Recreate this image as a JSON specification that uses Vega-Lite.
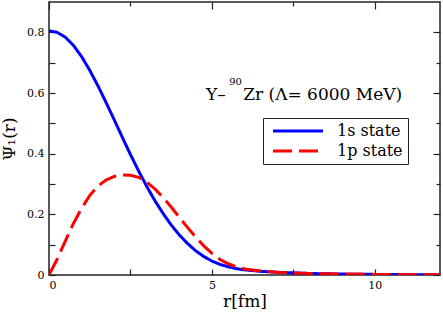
{
  "$schema": "https://vega.github.io/schema/vega-lite/v6.json",
  "width": 391,
  "height": 273,
  "autosize": {"type": "none"},
  "padding": {"left": 49, "top": 2, "right": 3, "bottom": 37},
  "background": "white",
  "config": {
    "view": {"stroke": "#222", "strokeWidth": 1.5},
    "font": "DejaVu Serif",
    "axis": {
      "domain": false,
      "grid": false,
      "tickColor": "#222",
      "tickWidth": 1.2,
      "labelFont": "DejaVu Serif",
      "labelFontSize": 11,
      "labelColor": "black",
      "titleFont": "DejaVu Serif",
      "titleFontSize": 17,
      "titleFontWeight": "normal",
      "titleColor": "black"
    }
  },
  "datasets": {
    "wf": [
      {"r": 0, "psi": 0.805, "state": "1s state"},
      {"r": 0.25, "psi": 0.8, "state": "1s state"},
      {"r": 0.5, "psi": 0.784, "state": "1s state"},
      {"r": 0.75, "psi": 0.757, "state": "1s state"},
      {"r": 1.0, "psi": 0.72, "state": "1s state"},
      {"r": 1.25, "psi": 0.675, "state": "1s state"},
      {"r": 1.5, "psi": 0.624, "state": "1s state"},
      {"r": 1.75, "psi": 0.569, "state": "1s state"},
      {"r": 2.0, "psi": 0.512, "state": "1s state"},
      {"r": 2.25, "psi": 0.454, "state": "1s state"},
      {"r": 2.5, "psi": 0.397, "state": "1s state"},
      {"r": 2.75, "psi": 0.343, "state": "1s state"},
      {"r": 3.0, "psi": 0.292, "state": "1s state"},
      {"r": 3.25, "psi": 0.245, "state": "1s state"},
      {"r": 3.5, "psi": 0.203, "state": "1s state"},
      {"r": 3.75, "psi": 0.165, "state": "1s state"},
      {"r": 4.0, "psi": 0.132, "state": "1s state"},
      {"r": 4.25, "psi": 0.104, "state": "1s state"},
      {"r": 4.5, "psi": 0.08, "state": "1s state"},
      {"r": 4.75, "psi": 0.061, "state": "1s state"},
      {"r": 5.0, "psi": 0.046, "state": "1s state"},
      {"r": 5.25, "psi": 0.035, "state": "1s state"},
      {"r": 5.5, "psi": 0.027, "state": "1s state"},
      {"r": 5.75, "psi": 0.021, "state": "1s state"},
      {"r": 6.0, "psi": 0.017, "state": "1s state"},
      {"r": 6.5, "psi": 0.012, "state": "1s state"},
      {"r": 7.0, "psi": 0.009, "state": "1s state"},
      {"r": 8.0, "psi": 0.005, "state": "1s state"},
      {"r": 9.0, "psi": 0.003, "state": "1s state"},
      {"r": 10.0, "psi": 0.002, "state": "1s state"},
      {"r": 11.0, "psi": 0.001, "state": "1s state"},
      {"r": 12.0, "psi": 0.001, "state": "1s state"},
      {"r": 0, "psi": 0.0, "state": "1p state"},
      {"r": 0.25, "psi": 0.052, "state": "1p state"},
      {"r": 0.5, "psi": 0.112, "state": "1p state"},
      {"r": 0.75, "psi": 0.17, "state": "1p state"},
      {"r": 1.0, "psi": 0.22, "state": "1p state"},
      {"r": 1.25, "psi": 0.262, "state": "1p state"},
      {"r": 1.5, "psi": 0.293, "state": "1p state"},
      {"r": 1.75, "psi": 0.313, "state": "1p state"},
      {"r": 2.0, "psi": 0.325, "state": "1p state"},
      {"r": 2.25, "psi": 0.33, "state": "1p state"},
      {"r": 2.5, "psi": 0.329, "state": "1p state"},
      {"r": 2.75, "psi": 0.322, "state": "1p state"},
      {"r": 3.0, "psi": 0.306, "state": "1p state"},
      {"r": 3.25, "psi": 0.284, "state": "1p state"},
      {"r": 3.5, "psi": 0.256, "state": "1p state"},
      {"r": 3.75, "psi": 0.224, "state": "1p state"},
      {"r": 4.0, "psi": 0.19, "state": "1p state"},
      {"r": 4.25, "psi": 0.157, "state": "1p state"},
      {"r": 4.5, "psi": 0.125, "state": "1p state"},
      {"r": 4.75, "psi": 0.096, "state": "1p state"},
      {"r": 5.0, "psi": 0.071, "state": "1p state"},
      {"r": 5.25, "psi": 0.051, "state": "1p state"},
      {"r": 5.5, "psi": 0.037, "state": "1p state"},
      {"r": 5.75, "psi": 0.027, "state": "1p state"},
      {"r": 6.0, "psi": 0.02, "state": "1p state"},
      {"r": 6.5, "psi": 0.013, "state": "1p state"},
      {"r": 7.0, "psi": 0.009, "state": "1p state"},
      {"r": 8.0, "psi": 0.005, "state": "1p state"},
      {"r": 9.0, "psi": 0.003, "state": "1p state"},
      {"r": 10.0, "psi": 0.002, "state": "1p state"},
      {"r": 11.0, "psi": 0.001, "state": "1p state"},
      {"r": 12.0, "psi": 0.001, "state": "1p state"}
    ],
    "note1": [{"t": "Y–"}],
    "note2": [{"t": "90"}],
    "note3": [{"t": "Zr (Λ= 6000 MeV)"}]
  },
  "resolve": {"axis": {"x": "independent", "y": "independent"}},
  "layer": [
    {
      "data": {"name": "wf"},
      "transform": [{"filter": "datum.state == '1s state'"}],
      "mark": {"type": "line", "strokeWidth": 3, "clip": true},
      "encoding": {
        "x": {
          "field": "r", "type": "quantitative",
          "scale": {"domain": [0, 12], "nice": false, "zero": false},
          "axis": {
            "orient": "bottom", "values": [0, 2.5, 5, 7.5, 10],
            "labelExpr": "datum.value % 5 == 0 ? format(datum.value, 'd') : ''",
            "tickSize": -6,
            "labelPadding": 10,
            "title": "r[fm]", "titlePadding": 3
          }
        },
        "y": {
          "field": "psi", "type": "quantitative",
          "scale": {"domain": [0, 0.9], "nice": false},
          "axis": {
            "orient": "left", "values": [0, 0.1, 0.2, 0.3, 0.4, 0.5, 0.6, 0.7, 0.8],
            "labelExpr": "round(datum.value*10) % 2 == 0 ? (datum.value == 0 ? '0' : format(datum.value, '.1f')) : ''",
            "tickSize": -6,
            "labelPadding": 11,
            "title": "Ψ₁(r)", "titlePadding": 8
          }
        },
        "color": {
          "field": "state", "type": "nominal",
          "scale": {"domain": ["1s state", "1p state"], "range": ["#0000ff", "#ff0000"]},
          "legend": {
            "orient": "none", "legendX": 214, "legendY": 116, "title": null,
            "strokeColor": "#222", "fillColor": "white", "padding": 5,
            "symbolType": "M-0.6,0H9.4", "symbolSize": 100, "symbolStrokeWidth": 3,
            "labelFont": "DejaVu Serif", "labelFontSize": 16, "labelColor": "black",
            "labelOffset": 53, "rowPadding": 4
          }
        },
        "strokeDash": {
          "field": "state", "type": "nominal",
          "scale": {"domain": ["1s state", "1p state"], "range": [[1, 0], [19, 7]]},
          "legend": {
            "orient": "none", "legendX": 214, "legendY": 116, "title": null,
            "strokeColor": "#222", "fillColor": "white", "padding": 5,
            "symbolType": "M-0.6,0H9.4", "symbolSize": 100, "symbolStrokeWidth": 3,
            "labelFont": "DejaVu Serif", "labelFontSize": 16, "labelColor": "black",
            "labelOffset": 53, "rowPadding": 4
          }
        }
      }
    },
    {
      "data": {"name": "wf"},
      "transform": [{"filter": "datum.state == '1p state'"}],
      "mark": {"type": "line", "strokeWidth": 3, "clip": true},
      "encoding": {
        "x": {
          "field": "r", "type": "quantitative",
          "axis": {
            "orient": "top", "values": [0, 2.5, 5, 7.5, 10], "labels": false, "title": null,
            "tickSize": {"condition": {"test": "datum.value % 5 == 0", "value": -7}, "value": -4}
          }
        },
        "y": {
          "field": "psi", "type": "quantitative",
          "axis": {
            "orient": "right", "values": [0, 0.1, 0.2, 0.3, 0.4, 0.5, 0.6, 0.7, 0.8], "labels": false, "title": null,
            "tickSize": {"condition": {"test": "round(datum.value*10) % 2 == 0", "value": -7}, "value": -4}
          }
        },
        "color": {"field": "state", "type": "nominal"},
        "strokeDash": {"field": "state", "type": "nominal"}
      }
    },
    {
      "data": {"name": "note1"},
      "mark": {"type": "text", "align": "left", "baseline": "alphabetic", "fontSize": 17, "font": "DejaVu Serif", "color": "black"},
      "encoding": {
        "x": {"datum": 4.82, "type": "quantitative", "axis": null},
        "y": {"datum": 0.578, "type": "quantitative", "axis": null},
        "text": {"field": "t"}
      }
    },
    {
      "data": {"name": "note2"},
      "mark": {"type": "text", "align": "left", "baseline": "alphabetic", "fontSize": 10, "font": "DejaVu Serif", "color": "black"},
      "encoding": {
        "x": {"datum": 5.53, "type": "quantitative", "axis": null},
        "y": {"datum": 0.626, "type": "quantitative", "axis": null},
        "text": {"field": "t"}
      }
    },
    {
      "data": {"name": "note3"},
      "mark": {"type": "text", "align": "left", "baseline": "alphabetic", "fontSize": 17, "font": "DejaVu Serif", "color": "black"},
      "encoding": {
        "x": {"datum": 5.96, "type": "quantitative", "axis": null},
        "y": {"datum": 0.578, "type": "quantitative", "axis": null},
        "text": {"field": "t"}
      }
    }
  ]
}
